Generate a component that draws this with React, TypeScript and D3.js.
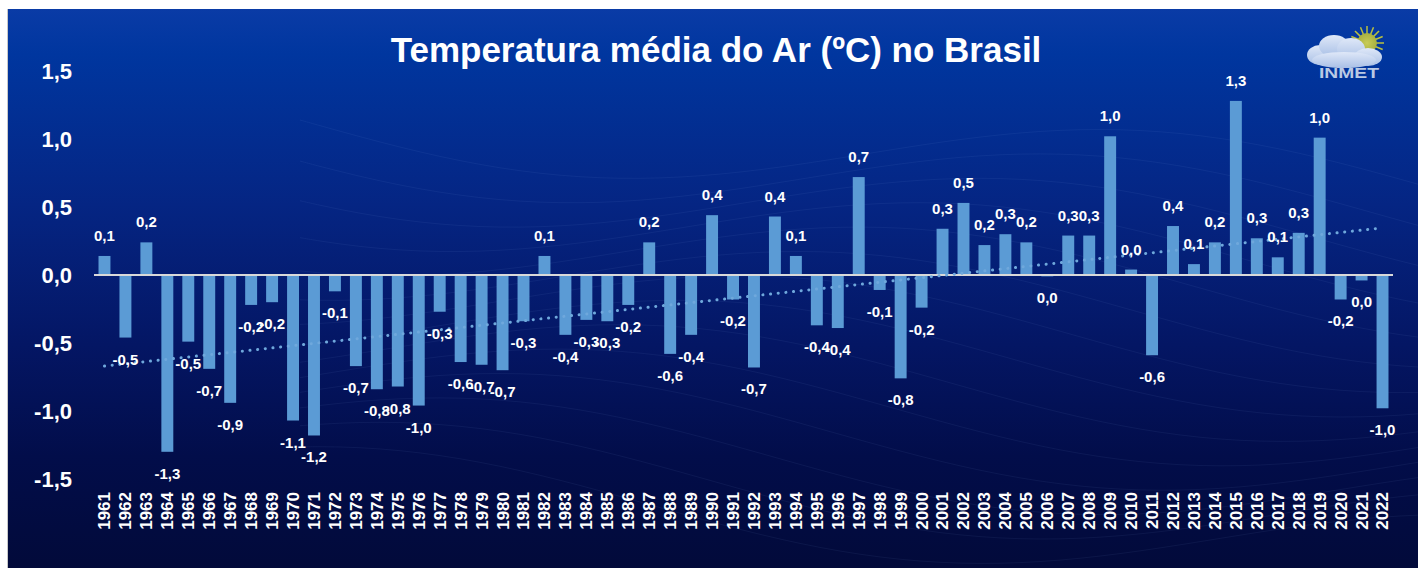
import React from "react";
import * as d3 from "d3";

const years: number[] = d3.range(1961, 2023);
const anomalies: number[] = [
  0.14, -0.46, 0.24, -1.3, -0.49, -0.69, -0.94, -0.22, -0.2, -1.07,
  -1.18, -0.12, -0.67, -0.84, -0.82, -0.96, -0.27, -0.64, -0.66, -0.7,
  -0.34, 0.14, -0.44, -0.33, -0.34, -0.22, 0.24, -0.58, -0.44, 0.44,
  -0.18, -0.68, 0.43, 0.14, -0.37, -0.39, 0.72, -0.11, -0.76, -0.24,
  0.34, 0.53, 0.22, 0.3, 0.24, -0.01, 0.29, 0.29, 1.02, 0.04,
  -0.59, 0.36, 0.08, 0.24, 1.28, 0.27, 0.13, 0.31, 1.01, -0.18,
  -0.04, -0.98,
];
const yTicks: number[] = [1.5, 1.0, 0.5, 0.0, -0.5, -1.0, -1.5];
const title = "Temperatura média do Ar (ºC) no Brasil";

const W = 1418;
const H = 568;
const FONT = "'Liberation Sans', Arial, sans-serif";

const fmt = (v: number) => {
  let r = Math.round(v * 10) / 10;
  if (Object.is(r, -0) || r === 0) r = 0;
  return r.toFixed(1).replace(".", ",");
};

export default function App() {
  const x = d3
    .scaleBand<number>()
    .domain(years)
    .range([94, 1393])
    .paddingInner(0.43)
    .paddingOuter(0.215);
  const y = d3.scaleLinear().domain([-1.5, 1.5]).range([479, 71]);

  // linear regression for the trend line
  const n = years.length;
  const mx = d3.mean(years) as number;
  const my = d3.mean(anomalies) as number;
  let sxy = 0,
    sxx = 0;
  years.forEach((yr, i) => {
    sxy += (yr - mx) * (anomalies[i] - my);
    sxx += (yr - mx) * (yr - mx);
  });
  const slope = sxy / sxx;
  const icpt = my - slope * mx;
  const trend = d3
    .line<number>()
    .x((yr) => (x(yr) as number) + x.bandwidth() / 2)
    .y((yr) => y(icpt + slope * yr));
  const trendYears = [years[0], years[n - 1]];

  // faint background waves
  const waves = d3.range(0, 14).map((k) => {
    const pts: [number, number][] = d3.range(0, 60).map((j) => {
      const px = 300 + j * 20;
      const py = 120 + k * 28 + 40 * Math.sin(j / 9 + k / 3) + j * 1.2;
      return [px, py];
    });
    return d3.line().curve(d3.curveBasis)(pts) as string;
  });

  return (
    <svg
      width={W}
      height={H}
      style={{ position: "absolute", left: 0, top: 0, display: "block" }}
      fontFamily={FONT}
    >
      <defs>
        <linearGradient id="bg" x1="0" y1="0" x2="0" y2="1">
          <stop offset="0%" stopColor="#0a3ba6" />
          <stop offset="8%" stopColor="#00369f" />
          <stop offset="35%" stopColor="#052583" />
          <stop offset="60%" stopColor="#041664" />
          <stop offset="80%" stopColor="#020d4a" />
          <stop offset="100%" stopColor="#020a3a" />
        </linearGradient>
        <radialGradient id="sun" cx="0.5" cy="0.5" r="0.5">
          <stop offset="0%" stopColor="#c8cc58" />
          <stop offset="100%" stopColor="#a8b040" />
        </radialGradient>
        <linearGradient id="cloud" x1="0" y1="0" x2="0" y2="1">
          <stop offset="0%" stopColor="#dfe8f8" />
          <stop offset="100%" stopColor="#a9c0e6" />
        </linearGradient>
      </defs>
      <rect x={0} y={0} width={W} height={H} fill="#ffffff" />
      <rect x={7} y={9} width={W - 7} height={H - 9} fill="url(#bg)" />
      <line x1={7.5} y1={9} x2={7.5} y2={H} stroke="#c8c8c8" strokeWidth={1} />
      <g opacity={0.06} fill="none" stroke="#9fc4ff" strokeWidth={1}>
        {waves.map((d, i) => (
          <path key={i} d={d} />
        ))}
      </g>

      {/* title */}
      <text
        x={716}
        y={62}
        textAnchor="middle"
        fill="#ffffff"
        fontWeight="bold"
        fontSize={35}
      >
        {title}
      </text>

      {/* INMET logo */}
      <g>
        {d3.range(0, 16).map((i) => {
          const a = (i / 16) * Math.PI * 2;
          return (
            <line
              key={i}
              x1={1367 + Math.cos(a) * 9}
              y1={43 + Math.sin(a) * 9}
              x2={1367 + Math.cos(a) * 17}
              y2={43 + Math.sin(a) * 17}
              stroke="#b9c040"
              strokeWidth={1.5}
            />
          );
        })}
        <circle cx={1367} cy={43} r={10} fill="url(#sun)" />
        <g fill="url(#cloud)">
          <ellipse cx={1320} cy={55} rx={13} ry={10} />
          <ellipse cx={1334} cy={46} rx={15} ry={11} />
          <ellipse cx={1351} cy={49} rx={14} ry={11} />
          <ellipse cx={1368} cy={57} rx={14} ry={9} />
          <ellipse cx={1344} cy={60} rx={32} ry={8} />
        </g>
        <text
          x={1349}
          y={78}
          textAnchor="middle"
          fill="#b9c9e4"
          fontWeight="bold"
          fontSize={14}
          textLength={60}
          lengthAdjust="spacingAndGlyphs"
        >
          INMET
        </text>
      </g>

      {/* y axis labels */}
      {yTicks.map((t) => (
        <text
          key={t}
          x={72}
          y={y(t)}
          dy="0.35em"
          textAnchor="end"
          fill="#ffffff"
          fontWeight="bold"
          fontSize={22}
        >
          {t.toFixed(1).replace(".", ",")}
        </text>
      ))}

      {/* bars */}
      {years.map((yr, i) => {
        const v = anomalies[i];
        return (
          <rect
            key={yr}
            x={x(yr)}
            y={y(Math.max(0, v))}
            width={x.bandwidth()}
            height={Math.abs(y(v) - y(0))}
            fill="#5b9bd5"
          />
        );
      })}

      {/* zero line */}
      <line
        x1={94}
        x2={1393}
        y1={y(0)}
        y2={y(0)}
        stroke="#d9d9d9"
        strokeWidth={2}
      />

      {/* trend */}
      <path
        d={trend(trendYears) as string}
        fill="none"
        stroke="#6fa8dc"
        strokeWidth={3}
        strokeLinecap="round"
        strokeDasharray="0.1 7.6"
      />

      {/* data labels */}
      {years.map((yr, i) => {
        const v = anomalies[i];
        const cx = (x(yr) as number) + x.bandwidth() / 2;
        const ty = v >= 0 ? y(v) - 15 : y(v) + 27;
        return (
          <text
            key={yr}
            x={cx}
            y={ty}
            textAnchor="middle"
            fill="#ffffff"
            fontWeight="bold"
            fontSize={15}
          >
            {fmt(v)}
          </text>
        );
      })}

      {/* x labels */}
      {years.map((yr) => {
        const cx = (x(yr) as number) + x.bandwidth() / 2;
        return (
          <text
            key={yr}
            transform={`translate(${cx},492) rotate(-90)`}
            textAnchor="end"
            dy="0.35em"
            fill="#ffffff"
            fontWeight="bold"
            fontSize={17}
          >
            {yr}
          </text>
        );
      })}
    </svg>
  );
}
